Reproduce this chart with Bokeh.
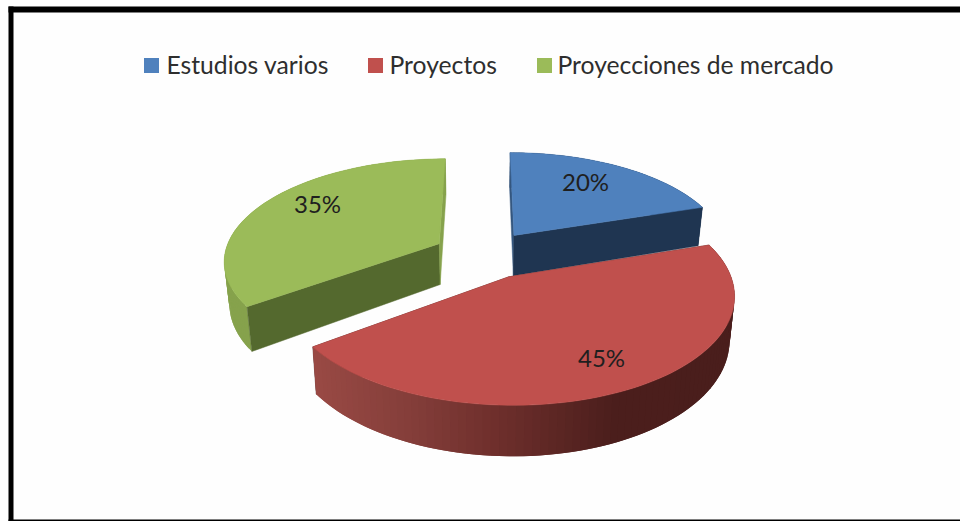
import numpy as np
from bokeh.plotting import figure
from bokeh.models import Range1d
from bokeh.core.properties import value
from bokeh.embed import file_html
from bokeh.resources import INLINE

categories = ["Estudios varios", "Proyectos", "Proyecciones de mercado"]
shares = [20, 45, 35]
top_colors = ["#4F81BD", "#C0504D", "#9BBB59"]
start_wall_colors = ["#35577F", "#4A1E1C", "#54692E"]
end_wall_colors = ["#1F3551", "#4A1E1C", "#86A24C"]
rim_colors = ["#1F3551", None, "#86A24C"]
draw_order = [0, 2, 1]

legend_square_x = [151, 375, 544]
legend_text_x = [166, 389, 557]
label_pos = [(585, 181), (601, 357), (317, 203)]

W, H = 960, 521
CX, CY, A, B, K, E, T = 484, 254, 215, 101, 0.154, 0.24, 41.5
FONT = "Lato"

p = figure(width=W, height=H, x_range=Range1d(0, W), y_range=Range1d(H, 0),
           output_backend="svg", toolbar_location=None, min_border=0,
           x_axis_type=None, y_axis_type=None, background_fill_color="#FEFEFE",
           border_fill_color="#FFFFFF", outline_line_color=None)
p.grid.visible = False


def project(u, v, lower=False):
    s = 1 / (1 + K * v)
    x = CX + A * u * s
    y = CY - B * v * s
    if lower:
        x = CX + (x - CX) * 0.98
        y = y + T * s
    return x, y


def rim_color(x):
    stops_x = [317, 420, 500, 620, 740]
    r = np.interp(x, stops_x, [0x9A, 0x84, 0x70, 0x4C, 0x4A])
    g = np.interp(x, stops_x, [0x4A, 0x3E, 0x30, 0x1F, 0x1E])
    b = np.interp(x, stops_x, [0x45, 0x3A, 0x2D, 0x1D, 0x1C])
    return "#%02X%02X%02X" % (int(r), int(g), int(b))


def radial_walls(i, t0, t1, ou, ov):
    for t, col in ((t0, start_wall_colors[i]), (t1, end_wall_colors[i])):
        eu, ev = ou + np.sin(t), ov + np.cos(t)
        a0 = project(ou, ov)
        e0 = project(eu, ev)
        e1 = project(eu, ev, True)
        a1 = project(ou, ov, True)
        p.patch([a0[0], e0[0], e1[0], a1[0]], [a0[1], e0[1], e1[1], a1[1]],
                fill_color=col, line_color=col, line_width=0.5)


edges = np.cumsum([0] + shares) / 100 * 2 * np.pi
for i in draw_order:
    t0, t1 = edges[i], edges[i + 1]
    mid = (t0 + t1) / 2
    ou, ov = E * np.sin(mid), E * np.cos(mid)
    th = np.linspace(t0, t1, 90)
    ru, rv = ou + np.sin(th), ov + np.cos(th)
    xt, yt = project(ru, rv)
    xb, yb = project(ru, rv, True)

    if i == 1:
        radial_walls(i, t0, t1, ou, ov)

    # painted so that each band overlaps the next: no seams
    for j in range(len(th) - 2, -1, -1):
        k = min(j + 2, len(th) - 1)
        col = rim_color((xt[j] + xt[j + 1]) / 2) if i == 1 else rim_colors[i]
        p.patch([xt[j], xt[k], xb[k], xb[j]], [yt[j], yt[k], yb[k], yb[j]],
                fill_color=col, line_color=None)

    if i != 1:
        radial_walls(i, t0, t1, ou, ov)

    ax, ay = project(ou, ov)
    p.patch(np.r_[ax, xt].tolist(), np.r_[ay, yt].tolist(),
            fill_color=top_colors[i], line_color=top_colors[i], line_width=0.5)

# frame
p.quad(left=[8, 8, 8], right=[13, W, W], top=[6, 6, 519], bottom=[H, 12, H],
       fill_color="#000000", line_color=None)

# legend
p.scatter(legend_square_x, [65] * 3, marker="square", size=15, fill_color=top_colors,
          line_color=None)
p.text(legend_text_x, [64] * 3, text=categories, text_font=value(FONT),
       text_font_size="24.7px", text_color="#2E2E2E", text_baseline="middle", text_align="left")

# percent labels
p.text([q[0] for q in label_pos], [q[1] for q in label_pos], text=[f"{v}%" for v in shares],
       text_font=value(FONT), text_font_size="24px", text_color="#1F1F1F",
       text_baseline="middle", text_align="center")

open("out.html", "w").write(file_html(p, INLINE))
